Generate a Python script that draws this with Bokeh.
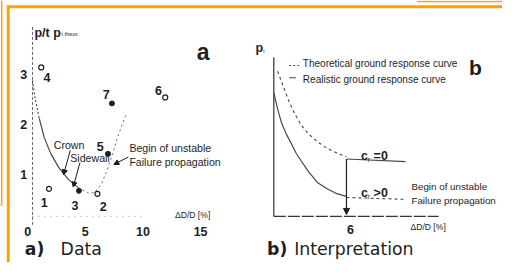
from bokeh.plotting import figure
from bokeh.models import Range1d, ColumnDataSource, Arrow, NormalHead
from bokeh.core.properties import value
from bokeh.embed import file_html
from bokeh.resources import INLINE

# ---------------- data: panel a (measured points) ----------------
pt_labels = ["1", "2", "3", "4", "5", "6", "7"]
pt_x = [1.85, 6.05, 4.45, 1.18, 6.97, 11.93, 7.31]
pt_y = [0.72, 0.62, 0.68, 3.15, 1.42, 2.55, 2.43]
pt_filled = [False, False, True, False, True, False, True]
# label offsets from the point (px, +right / +down)
lab_dx = [-5, 6, -4, 6, -8, -7, -6]
lab_dy = [15, 13, 16, 11, -8, -7, -10]

a_xticks = [0, 5, 10, 15]
a_yticks = [1, 2, 3]

# fitted curve of panel a
ca_top_x = [0.42, 0.67, 1.01]
ca_top_y = [2.89, 2.51, 2.13]
ca_mid_x = [1.01, 1.43, 2.02, 2.69, 3.53, 4.37]
ca_mid_y = [2.13, 1.75, 1.42, 1.15, 0.91, 0.75]
ca_low_x = [4.37, 5.21, 5.80, 6.39, 6.89, 7.31, 7.73, 8.15, 8.57]
ca_low_y = [0.75, 0.64, 0.64, 0.81, 1.09, 1.38, 1.70, 1.98, 2.23]

# ---------------- data: panel b (schematic curves) ----------------
theo_x = [0.39, 0.87, 1.34, 1.82, 2.29, 2.92, 3.63, 4.42, 5.21, 6.00]
theo_y = [3.85, 3.43, 3.03, 2.70, 2.43, 2.18, 1.98, 1.80, 1.68, 1.58]
real_x = [0.08, 0.39, 0.71, 1.10, 1.50, 1.89, 2.29, 2.92, 3.63, 4.42, 5.21, 6.00]
real_y = [3.28, 2.85, 2.48, 2.18, 1.93, 1.68, 1.48, 1.18, 0.90, 0.73, 0.60, 0.53]
cr0_x = [6.0, 10.81]
cr0_y = [1.52, 1.45]
crpos_x = [6.0, 10.81]
crpos_y = [0.50, 0.45]
b_xticks = [6]
fail_u = 6.0

INK = "#1e1e1e"
LINE = "#474747"
ORANGE = "#FFA200"
SANS = value("Liberation Sans")
FS = 0.96  # font scale (page is drawn at 502x262 for a 518x278 layout)

W, H = 518.0, 278.0
p = figure(width=502, height=262, x_range=Range1d(0, W), y_range=Range1d(H, 0),
           output_backend="svg", toolbar_location=None, min_border=0,
           x_axis_type=None, y_axis_type=None)
p.grid.visible = False
p.outline_line_color = None
p.background_fill_color = "white"
p.border_fill_color = "white"

# scales of the two panels (layout pixel frame -> data units)
ax0, axs = 28.0, 11.9
ay0, ays = 238.0, 53.0
bx0, bxs = 281.0, 12.667
by0, bys = 229.0, 40.0
p.extra_x_ranges = {
    "ax": Range1d((0 - ax0) / axs, (W - ax0) / axs),
    "bx": Range1d((0 - bx0) / bxs, (W - bx0) / bxs),
}
p.extra_y_ranges = {
    "ay": Range1d((ay0 - H) / ays, ay0 / ays),
    "by": Range1d((by0 - H) / bys, by0 / bys),
}

# ---------------- orange frame ----------------
p.line([7, 520], [6.5, 6.5], line_color=ORANGE, line_width=3)
p.line([8, 8], [5, 280], line_color=ORANGE, line_width=3)
p.line([430, 520], [1, 1], line_color=ORANGE, line_width=1.5)
p.line([-1, 1.2, 1.2], [217, 217, -1], line_color=ORANGE, line_width=1.5)

# ---------------- panel a ----------------
A = dict(x_range_name="ax", y_range_name="ay")
p.line([33, 33], [28, 238], line_color="#666666", line_width=1, line_dash="3 2")
p.line([33, 150], [229, 229], line_color="#9a9a9a", line_width=1, line_dash="1 5")

p.line(ca_top_x, ca_top_y, line_color=LINE, line_width=1.1, line_dash="2 2", **A)
p.line(ca_mid_x, ca_mid_y, line_color=LINE, line_width=1.2, **A)
p.line(ca_low_x, ca_low_y, line_color="#6a6a6a", line_width=1.0, line_dash="2 3", **A)

fx = [x for x, f in zip(pt_x, pt_filled) if f]
fy = [y for y, f in zip(pt_y, pt_filled) if f]
ox = [x for x, f in zip(pt_x, pt_filled) if not f]
oy = [y for y, f in zip(pt_y, pt_filled) if not f]
p.scatter(fx, fy, size=5, marker="circle", fill_color=INK, line_color=INK, **A)
p.scatter(ox, oy, size=5, marker="circle", fill_color="white", line_color=INK,
          line_width=1.2, **A)

lab_src = ColumnDataSource(dict(
    x=[x + dx / axs for x, dx in zip(pt_x, lab_dx)],
    y=[y - dy / ays for y, dy in zip(pt_y, lab_dy)],
    t=pt_labels))
p.text("x", "y", text="t", source=lab_src, text_font=SANS,
       text_font_size=f"{13 * FS:.1f}px", text_font_style="bold", text_color=INK,
       text_align="center", text_baseline="middle", **A)

p.text(a_xticks, [-0.14] * len(a_xticks), text=[str(v) for v in a_xticks],
       text_font=SANS, text_font_size=f"{13 * FS:.1f}px", text_font_style="bold",
       text_color=INK, text_align="center", text_baseline="middle", **A)
p.text([-0.34] * len(a_yticks), a_yticks, text=[str(v) for v in a_yticks],
       text_font=SANS, text_font_size=f"{13 * FS:.1f}px", text_font_style="bold",
       text_color=INK, text_align="center", text_baseline="middle", **A)


def txt(x, y, s, size, bold=False, align="left", color=INK, font=SANS):
    p.text([x], [y], text=[s], text_font=font, text_font_size=f"{size * FS:.1f}px",
           text_font_style="bold" if bold else "normal", text_color=color,
           text_align=align, text_baseline="middle")


txt(35, 34, "p/t p", 13, bold=True)
txt(63, 36, "i theor.", 6)
txt(209, 55, "a", 24, bold=True, align="center")
txt(55, 153, "Crown", 11)
txt(72, 167, "Sidewall", 11)
txt(133, 157, "Begin of unstable", 11)
txt(133, 171, "Failure propagation", 11)
txt(180, 228, "ΔD/D [%]", 9)

for (x0, y0, x1, y1) in [(72, 159, 65, 185), (82, 172, 75, 198), (132, 166, 117, 174)]:
    p.add_layout(Arrow(end=NormalHead(size=5, fill_color=INK, line_color=INK),
                       x_start=x0, y_start=y0, x_end=x1, y_end=y1,
                       line_color=INK, line_width=1))

# ---------------- panel b ----------------
B = dict(x_range_name="bx", y_range_name="by")
p.line([0.08, 0.08], [4.22, 0.0], line_color="#333333", line_width=1.2, **B)
p.line([0.08, 13.5], [0.0, 0.0], line_color="#333333", line_width=1.2,
       line_dash="12 2", **B)

p.line(theo_x, theo_y, line_color=LINE, line_width=1.1, line_dash="3 3", **B)
p.line(real_x, real_y, line_color=LINE, line_width=1.2, **B)
p.line(cr0_x, cr0_y, line_color=LINE, line_width=1.1, **B)
p.line(crpos_x, crpos_y, line_color=LINE, line_width=1.1, line_dash="3 3", **B)
p.add_layout(Arrow(end=NormalHead(size=6, fill_color=INK, line_color=INK),
                   x_start=fail_u, y_start=cr0_y[0], x_end=fail_u, y_end=0.05,
                   line_color=INK, line_width=1.2, **B))

p.text(b_xticks, [-0.35] * len(b_xticks), text=[str(v) for v in b_xticks],
       x_offset=4, text_font=SANS, text_font_size=f"{13 * FS:.1f}px",
       text_font_style="bold", text_color=INK, text_align="center",
       text_baseline="middle", **B)

txt(263, 50, "p", 13, bold=True)
txt(271, 54, "i", 6)
p.line([298, 310], [69, 69], line_color=LINE, line_width=1, line_dash="2 2")
txt(312, 67, "Theoretical ground response curve", 10.4)
p.line([298, 305], [82, 82], line_color=LINE, line_width=1)
txt(312, 84, "Realistic ground response curve", 10.4)
txt(490, 71, "b", 22, bold=True, align="center")

txt(372, 165, "c", 13, bold=True)
txt(379, 169, "r", 7)
txt(385, 165, "=0", 13, bold=True)
txt(372, 204, "c", 13, bold=True)
txt(379, 208, "r", 7)
txt(385, 204, ">0", 13, bold=True)
txt(424, 197, "Begin of unstable", 10.2)
txt(424, 212, "Failure propagation", 10.2)
txt(423, 240, "ΔD/D [%]", 9)

# ---------------- captions ----------------
DV = value("DejaVu Sans")
txt(25, 264, "a)", 18, bold=True, font=DV)
txt(62, 264, "Data", 18, font=DV)
txt(275, 264, "b)", 18, bold=True, font=DV)
txt(303, 264, "Interpretation", 18, font=DV)

open("out.html", "w").write(file_html(p, INLINE))
